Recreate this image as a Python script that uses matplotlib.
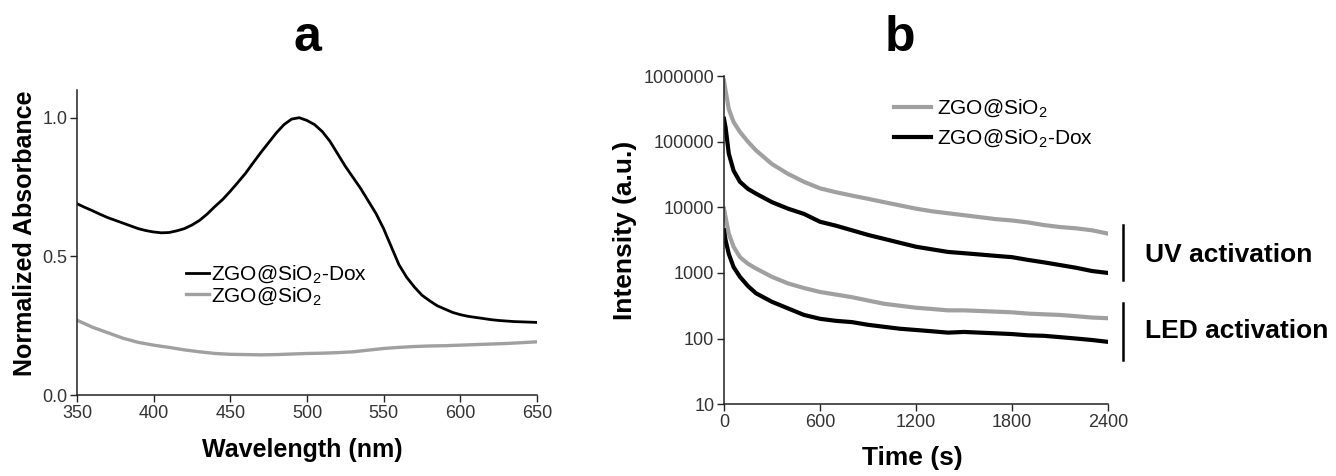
import numpy as np
import matplotlib
matplotlib.use("Agg")
import matplotlib.pyplot as plt
from matplotlib.ticker import FixedLocator, FuncFormatter, NullLocator
import matplotlib.transforms as mtransforms

plt.rcParams['font.family'] = ['Liberation Sans', 'DejaVu Sans']
plt.rcParams['mathtext.default'] = 'regular'

# ---- panel a: absorbance ----
wl_dox = list(range(350, 655, 5))
abs_dox = [0.69, 0.677, 0.665, 0.652, 0.64, 0.63, 0.62, 0.61, 0.60, 0.593, 0.588, 0.585, 0.586, 0.592,
           0.60, 0.613, 0.63, 0.653, 0.68, 0.705, 0.735, 0.767, 0.80, 0.838, 0.875, 0.91, 0.945, 0.975,
           0.995, 1.0, 0.99, 0.975, 0.95, 0.915, 0.87, 0.825, 0.785, 0.745, 0.70, 0.655, 0.60, 0.535,
           0.47, 0.425, 0.39, 0.36, 0.34, 0.322, 0.31, 0.298, 0.29, 0.284, 0.28, 0.276, 0.272, 0.269,
           0.267, 0.265, 0.264, 0.263, 0.262]
wl_sio2 = list(range(350, 660, 10))
abs_sio2 = [0.27, 0.245, 0.225, 0.205, 0.19, 0.18, 0.172, 0.163, 0.156, 0.15, 0.147, 0.146, 0.145, 0.146,
            0.148, 0.15, 0.151, 0.153, 0.156, 0.162, 0.168, 0.172, 0.175, 0.177, 0.178, 0.18, 0.182,
            0.184, 0.186, 0.189, 0.192]

# ---- panel b: persistent luminescence decay ----
time_s = [0, 10, 30, 60, 100, 150, 200, 300, 400, 500, 600, 700, 800, 900, 1000, 1100, 1200,
          1300, 1400, 1500, 1600, 1700, 1800, 1900, 2000, 2100, 2200, 2300, 2400]
uv_sio2 = [851000, 603000, 316000, 200000, 141000, 100000, 74000, 45700, 32400, 24500, 19500, 17000, 15100,
           13500, 12000, 10700, 9550, 8710, 8130, 7590, 7080, 6610, 6310, 5890, 5370, 5010, 4790, 4470, 3980]
uv_dox = [224000, 166000, 66000, 36300, 24500, 19100, 16200, 12000, 9550, 7940, 6030, 5250, 4470,
          3800, 3310, 2880, 2510, 2290, 2090, 2000, 1910, 1820, 1740, 1580, 1450, 1320, 1200, 1070, 1000]
led_sio2 = [9550, 7080, 3980, 2510, 1740, 1380, 1170, 871, 692, 589, 513, 468, 427,
            380, 339, 316, 295, 282, 269, 269, 263, 257, 251, 240, 234, 229, 219, 209, 204]
led_dox = [4470, 3160, 1950, 1230, 871, 631, 490, 363, 288, 229, 200, 186, 178,
           162, 151, 141, 135, 129, 123, 126, 123, 120, 117, 112, 110, 105, 100, 95, 89]

gray = '#a0a0a0'
tickcol = '#333333'

fig = plt.figure(figsize=(13.36, 4.76), dpi=100)

# panel a
axa = fig.add_axes([0.0576, 0.170, 0.3443, 0.641])
axa.plot(wl_dox, abs_dox, color='black', lw=2.0, label='ZGO@SiO$_2$-Dox')
axa.plot(wl_sio2, abs_sio2, color=gray, lw=2.4, label='ZGO@SiO$_2$')
axa.set_xlim(350, 650)
axa.set_ylim(0, 1.1)
axa.xaxis.set_major_locator(FixedLocator([350, 400, 450, 500, 550, 600, 650]))
axa.yaxis.set_major_locator(FixedLocator([0.0, 0.5, 1.0]))
axa.yaxis.set_major_formatter(FuncFormatter(lambda v, p: '%.1f' % v))
axa.set_xlabel('Wavelength (nm)', fontsize=18, fontweight='bold')
axa.set_ylabel('Normalized Absorbance', fontsize=18, fontweight='bold')
axa.xaxis.set_label_coords(0.49, -0.18)
axa.xaxis.label.set_va('center')
axa.yaxis.set_label_coords(-0.112, 0.53)
axa.yaxis.label.set_va('center')
axa.legend(loc='center left', bbox_to_anchor=(0.22, 0.36), frameon=False, fontsize=15,
           handlelength=1.1, handletextpad=0.1, labelspacing=0.0, borderaxespad=0)

# panel b
axb = fig.add_axes([0.5419, 0.151, 0.2874, 0.689])
axb.plot(time_s, uv_sio2, color=gray, lw=3.0, label='ZGO@SiO$_2$')
axb.plot(time_s, uv_dox, color='black', lw=3.0, label='ZGO@SiO$_2$-Dox')
axb.plot(time_s, led_sio2, color=gray, lw=3.0)
axb.plot(time_s, led_dox, color='black', lw=3.0)
axb.set_yscale('log')
axb.set_xlim(0, 2400)
axb.set_ylim(10, 1e6)
axb.xaxis.set_major_locator(FixedLocator([0, 600, 1200, 1800, 2400]))
axb.yaxis.set_major_locator(FixedLocator([10, 100, 1000, 10000, 100000, 1000000]))
axb.yaxis.set_minor_locator(NullLocator())
axb.yaxis.set_major_formatter(FuncFormatter(lambda v, p: '%d' % round(v)))
axb.set_xlabel('Time (s)', fontsize=19, fontweight='bold')
axb.set_ylabel('Intensity (a.u.)', fontsize=19, fontweight='bold')
axb.xaxis.set_label_coords(0.49, -0.165)
axb.xaxis.label.set_va('center')
axb.yaxis.set_label_coords(-0.258, 0.53)
axb.yaxis.label.set_va('center')
axb.legend(loc='upper left', bbox_to_anchor=(0.42, 0.96), frameon=False, fontsize=15,
           handlelength=1.8, handletextpad=0.3, labelspacing=0.4, borderaxespad=0)

# activation brackets
trans = mtransforms.blended_transform_factory(axb.transAxes, axb.transData)
axb.plot([1.039, 1.039], [5400, 780], color='black', lw=1.8, transform=trans, clip_on=False)
axb.plot([1.039, 1.039], [347, 47], color='black', lw=1.8, transform=trans, clip_on=False)
axb.text(1.096, 1860, 'UV activation', transform=trans, fontsize=19, fontweight='bold',
         va='center', ha='left')
axb.text(1.096, 128, 'LED activation', transform=trans, fontsize=19, fontweight='bold',
         va='center', ha='left')

for ax in (axa, axb):
    for s in ('top', 'right'):
        ax.spines[s].set_visible(False)
    for s in ('left', 'bottom'):
        ax.spines[s].set_linewidth(1.1)
        ax.spines[s].set_color('#222222')
    ax.tick_params(axis='both', which='major', direction='out', length=5, width=1.0,
                   colors='#222222', labelcolor=tickcol, labelsize=13, pad=2)

fig.text(0.2298, 0.893, 'a', fontsize=36, fontweight='bold', ha='center', va='baseline')
fig.text(0.6737, 0.893, 'b', fontsize=36, fontweight='bold', ha='center', va='baseline')

fig.savefig('out.png', dpi=100)
